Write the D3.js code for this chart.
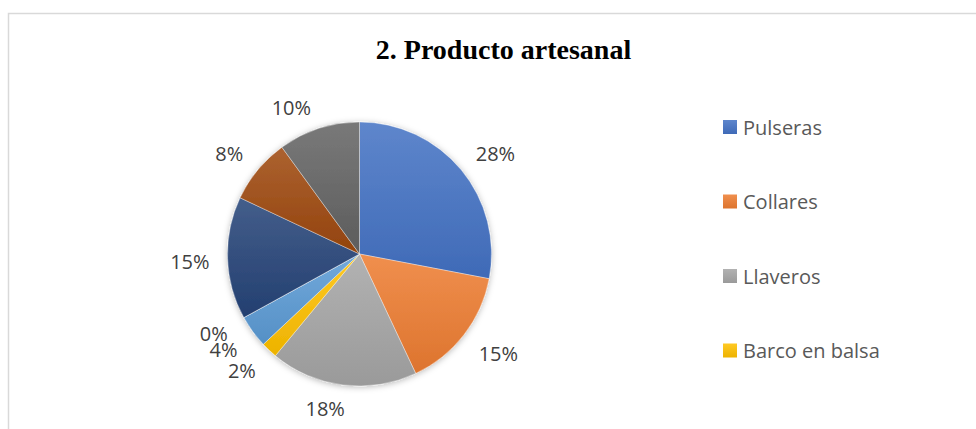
<!DOCTYPE html>
<html>
<head>
<meta charset="utf-8">
<script src="https://cdn.jsdelivr.net/npm/d3@7"></script>
<style>
  html, body { margin: 0; padding: 0; background: #fff; }
  svg { display: block; }
</style>
</head>
<body>
<svg id="chart" width="976" height="429"></svg>
<script>
// Share of each handcrafted product, in percent, clockwise from 12 o'clock
const values = [28, 15, 18, 2, 4, 0, 15, 8, 10];
// Legend entries (the legend box shows the first four series)
const categories = ["Pulseras", "Collares", "Llaveros", "Barco en balsa"];
const title = "2. Producto artesanal";

// Office-style series colours
const palette = ["#4472C4", "#ED7D31", "#A5A5A5", "#FFC000", "#5B9BD5",
                 "#70AD47", "#264478", "#9E480E", "#636363"];

const W = 976, H = 429;
const svg = d3.select("#chart");
const defs = svg.append("defs");

// chart area frame
svg.append("rect")
  .attr("x", 8.5).attr("y", 13.5)
  .attr("width", W + 20).attr("height", H + 20)
  .attr("fill", "#fff")
  .attr("stroke", "#D9D9D9").attr("stroke-width", 1.5);

// title
svg.append("text")
  .attr("x", 503.5).attr("y", 59)
  .attr("text-anchor", "middle")
  .attr("font-family", "'Liberation Serif', 'Times New Roman', serif")
  .attr("font-weight", "bold")
  .attr("font-size", 28)
  .attr("fill", "#000")
  .text(title);

// soft shadow under the pie
const shadow = defs.append("filter").attr("id", "pieShadow")
  .attr("x", "-20%").attr("y", "-20%").attr("width", "140%").attr("height", "140%");
shadow.append("feDropShadow")
  .attr("dx", 0).attr("dy", 1).attr("stdDeviation", 3)
  .attr("flood-color", "#000").attr("flood-opacity", 0.28);

// vertical gradient per series: lighter at the top, deeper at the bottom
palette.forEach((c, i) => {
  const g = defs.append("linearGradient").attr("id", "grad" + i)
    .attr("x1", 0).attr("y1", 0).attr("x2", 0).attr("y2", 1);
  g.append("stop").attr("offset", "0%")
    .attr("stop-color", d3.interpolateRgb(c, "#fff")(0.14));
  g.append("stop").attr("offset", "100%")
    .attr("stop-color", d3.color(c).darker(0.2).formatHex());
});

const cx = 359.5, cy = 254, R = 132;
const pie = d3.pie().sort(null).value(d => d);
const arcs = pie(values);
const arc = d3.arc().innerRadius(0).outerRadius(R);

const g = svg.append("g").attr("transform", `translate(${cx},${cy})`);
const slices = g.append("g").attr("filter", "url(#pieShadow)");
slices.selectAll("path")
  .data(arcs)
  .join("path")
  .attr("d", arc)
  .attr("fill", (d, i) => `url(#grad${i})`)
  .attr("stroke", "#fff").attr("stroke-width", 0.6).attr("stroke-opacity", 0.6);

// outside-end percentage labels: the label box corner facing the pie
// sits on a ring just outside the rim
const labelFont = "'Open Sans', 'Noto Sans', sans-serif";
const ring = R + 15;
const clamp = v => Math.max(-1, Math.min(1, v));
g.selectAll("text.lbl")
  .data(arcs)
  .join("text")
  .attr("class", "lbl")
  .attr("font-family", labelFont)
  .attr("font-size", 20)
  .attr("fill", "#404040")
  .attr("text-anchor", "middle")
  .attr("dominant-baseline", "central")
  .text(d => d.data + "%")
  .each(function (d) {
    const bb = this.getBBox();
    const a = (d.startAngle + d.endAngle) / 2;
    const ux = Math.sin(a), uy = -Math.cos(a);
    const hw = bb.width / 2 + 3, hh = 8;
    const x = ring * ux + hw * clamp(5.6 * ux);
    const y = ring * uy + hh * clamp(5.6 * uy) + 1;
    d3.select(this).attr("x", x).attr("y", y);
  });

// legend
const legend = svg.append("g").attr("transform", "translate(723,127)");
const item = legend.selectAll("g")
  .data(categories)
  .join("g")
  .attr("transform", (d, i) => `translate(0,${i * 74.5})`);
item.append("rect")
  .attr("x", 0).attr("y", -7).attr("width", 14).attr("height", 14)
  .attr("fill", (d, i) => `url(#grad${i})`);
item.append("text")
  .attr("x", 20).attr("y", 0)
  .attr("dominant-baseline", "central")
  .attr("font-family", labelFont)
  .attr("font-size", 20)
  .attr("fill", "#595959")
  .text(d => d);
</script>
</body>
</html>
